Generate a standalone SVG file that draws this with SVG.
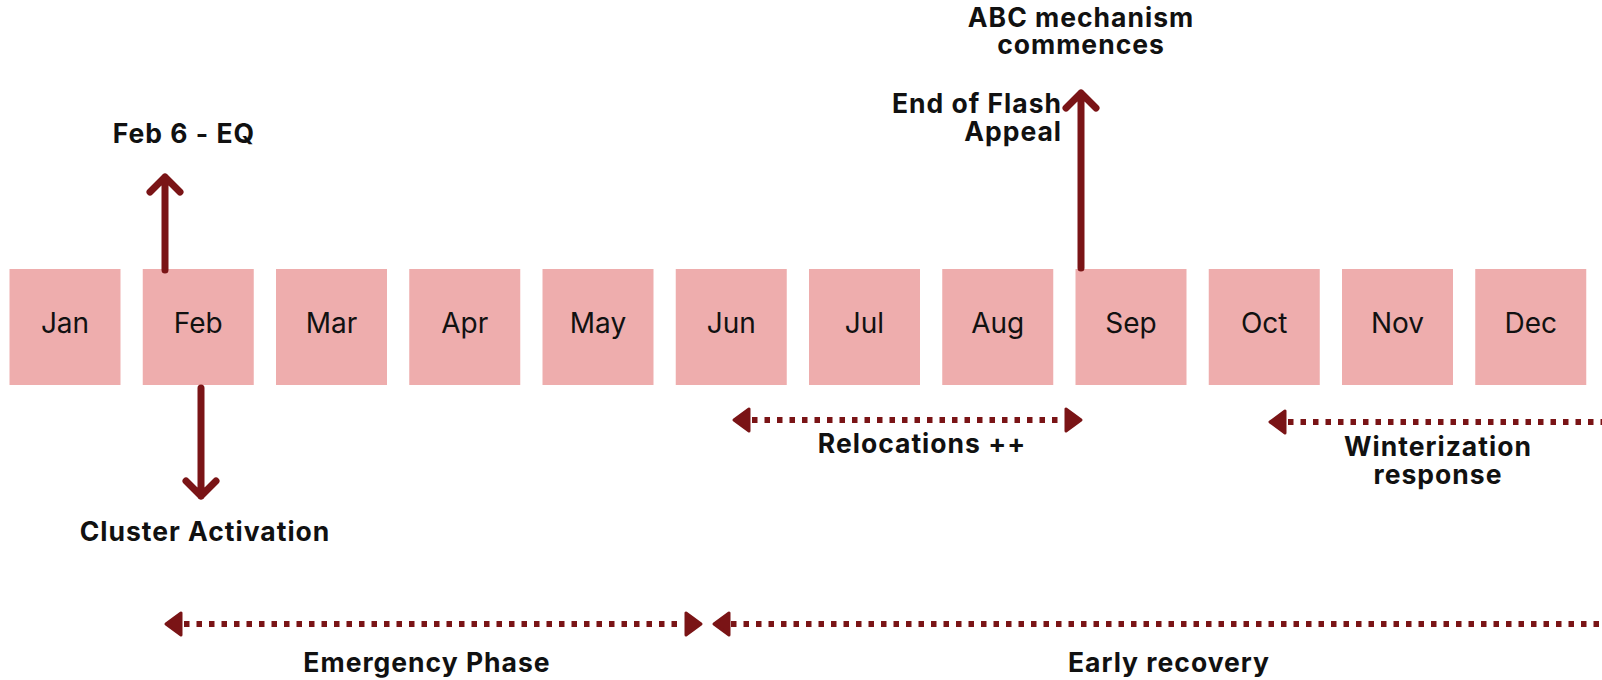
<svg xmlns="http://www.w3.org/2000/svg" width="1602" height="680" viewBox="0 0 1602 680">
<style>
.box{fill:#EEADAD}
.m{font-family:Inter,"Liberation Sans",sans-serif;font-size:28px;fill:#111;text-anchor:middle}
.lbl{font-family:Inter,"Liberation Sans",sans-serif;font-weight:700;font-size:26.5px;letter-spacing:1px;fill:#111;text-anchor:middle}
.solid{stroke:#7A1416;stroke-width:7;fill:none;stroke-linecap:round;stroke-linejoin:round}
.dot{stroke:#7A1416;stroke-width:6;fill:none;stroke-dasharray:5.5 7}
.head{fill:#7A1416;stroke:#7A1416;stroke-width:3;stroke-linejoin:round}
</style>
<rect width="1602" height="680" fill="#fff"/>
<g id="jan"><rect class="box" x="9.5" y="269" width="111" height="116"/><text class="m" x="65" y="333">Jan</text></g>
<g id="feb"><rect class="box" x="142.75" y="269" width="111" height="116"/><text class="m" x="198.25" y="333">Feb</text></g>
<g id="mar"><rect class="box" x="276" y="269" width="111" height="116"/><text class="m" x="331.5" y="333">Mar</text></g>
<g id="apr"><rect class="box" x="409.25" y="269" width="111" height="116"/><text class="m" x="464.75" y="333">Apr</text></g>
<g id="may"><rect class="box" x="542.5" y="269" width="111" height="116"/><text class="m" x="598" y="333">May</text></g>
<g id="jun"><rect class="box" x="675.75" y="269" width="111" height="116"/><text class="m" x="731.25" y="333">Jun</text></g>
<g id="jul"><rect class="box" x="809" y="269" width="111" height="116"/><text class="m" x="864.5" y="333">Jul</text></g>
<g id="aug"><rect class="box" x="942.25" y="269" width="111" height="116"/><text class="m" x="997.75" y="333">Aug</text></g>
<g id="sep"><rect class="box" x="1075.5" y="269" width="111" height="116"/><text class="m" x="1131" y="333">Sep</text></g>
<g id="oct"><rect class="box" x="1208.75" y="269" width="111" height="116"/><text class="m" x="1264.25" y="333">Oct</text></g>
<g id="nov"><rect class="box" x="1342" y="269" width="111" height="116"/><text class="m" x="1397.5" y="333">Nov</text></g>
<g id="dec"><rect class="box" x="1475.25" y="269" width="111" height="116"/><text class="m" x="1530.75" y="333">Dec</text></g>

<g id="connectors">
<path class="solid" d="M165 270 V177 M150 192 L165 177 L180 192"/>
<path class="solid" d="M201 388 V496 M186 481 L201 496 L216 481"/>
<path class="solid" d="M1081 268 V93 M1066 108 L1081 93 L1096 108"/>
<line class="dot" x1="752" y1="420" x2="1064" y2="420"/>
<path class="head" d="M734 420 L749 409 L749 431 Z"/>
<path class="head" d="M1081 420 L1066 409 L1066 431 Z"/>
<line class="dot" x1="1288" y1="422" x2="1602" y2="422"/>
<path class="head" d="M1270 422 L1285 411 L1285 433 Z"/>
<line class="dot" x1="184" y1="624" x2="684" y2="624"/>
<path class="head" d="M166 624 L181 613 L181 635 Z"/>
<path class="head" d="M701 624 L686 613 L686 635 Z"/>
<line class="dot" x1="731" y1="624" x2="1602" y2="624"/>
<path class="head" d="M714 624 L729 613 L729 635 Z"/>
</g>

<g id="labels">
<text class="lbl" x="184" y="143">Feb 6 - EQ</text>
<text class="lbl" x="205" y="541">Cluster Activation</text>
<text class="lbl" x="1081" y="27">ABC mechanism</text>
<text class="lbl" x="1081" y="54">commences</text>
<text class="lbl" x="1062" y="113" style="text-anchor:end">End of Flash</text>
<text class="lbl" x="1062" y="141" style="text-anchor:end">Appeal</text>
<text class="lbl" x="922" y="453">Relocations ++</text>
<text class="lbl" x="1438" y="456">Winterization</text>
<text class="lbl" x="1438" y="484">response</text>
<text class="lbl" x="427" y="672">Emergency Phase</text>
<text class="lbl" x="1169" y="672">Early recovery</text>
</g>
</svg>
